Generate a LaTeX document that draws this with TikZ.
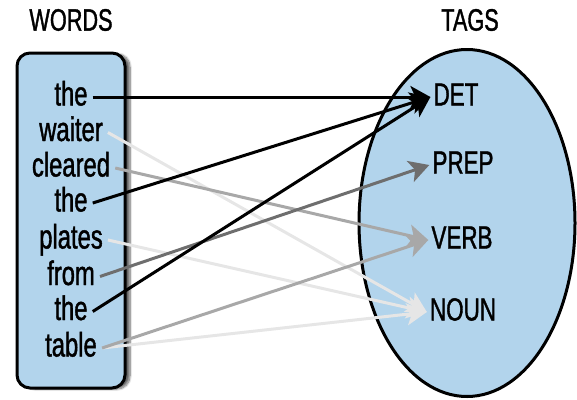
\documentclass[tikz,border=0pt]{standalone}
\usepackage{fontspec}
\setmainfont[FakeStretch=0.70,FakeBold=1.2]{Liberation Sans}
\usetikzlibrary{arrows.meta,shadows.blur,shapes.geometric}
\definecolor{boxblue}{RGB}{178,212,236}
\definecolor{cdet}{RGB}{0,0,0}
\definecolor{cprep}{RGB}{110,110,110}
\definecolor{cverb}{RGB}{168,168,168}
\definecolor{cnoun}{RGB}{230,230,230}
\begin{document}
\begin{tikzpicture}[x=1pt,y=-1pt,
  word/.style={font=\fontsize{34}{34}\selectfont, text height=23pt, text depth=6pt, inner xsep=5pt, inner ysep=0pt},
  tag/.style={font=\fontsize{32}{32}\selectfont, text height=23pt, text depth=6pt, inner xsep=3pt, inner ysep=0pt},
  head/.style={font=\fontsize{31}{31}\selectfont},
  link/.style={line width=3pt, -{Stealth[length=20pt,width=22pt,inset=5pt]}},
]
\useasboundingbox (0,0) rectangle (577,399);
% containers
\node[draw, line width=3pt, fill=boxblue, rounded corners=13pt, minimum width=108pt, minimum height=335pt,
      blur shadow={shadow xshift=5pt, shadow yshift=-1pt, shadow blur steps=8, shadow opacity=60}] (box) at (71,220.5) {};
\node[draw, line width=3pt, fill=boxblue, ellipse, minimum width=216pt, minimum height=347pt, inner sep=0pt] (ell) at (467,223) {};
% headers
\node[head] (hwords) at (71,20) {WORDS};
\node[head] (htags) at (470,20) {TAGS};
% words
\node[word] (w1) at (71,97) {the};
\node[word] (w2) at (71,132.5) {waiter};
\node[word] (w3) at (71,168) {cleared};
\node[word] (w4) at (71,203) {the};
\node[word] (w5) at (71,240) {plates};
\node[word] (w6) at (71,276.5) {from};
\node[word] (w7) at (71,311.5) {the};
\node[word] (w8) at (71,348) {table};
% tags
\node[tag] (det) at (456,97) {DET};
\node[tag] (prep) at (463,165) {PREP};
\node[tag] (verb) at (462,240) {VERB};
\node[tag] (noun) at (463,312) {NOUN};
% links
\draw[link, cnoun] (w2.east) -- (noun.west);
\draw[link, cnoun] (w5.east) -- (noun.west);
\draw[link, cnoun] (w8.east) -- (noun.west);
\draw[link, cverb] (w3.east) -- (verb.west);
\draw[link, cverb] (w8.east) -- (verb.west);
\draw[link, cprep] (w6.east) -- (prep.west);
\draw[link, cdet] (w1.east) -- (det.west);
\draw[link, cdet] (w4.east) -- (det.west);
\draw[link, cdet] (w7.east) -- (det.west);
\end{tikzpicture}
\end{document}
